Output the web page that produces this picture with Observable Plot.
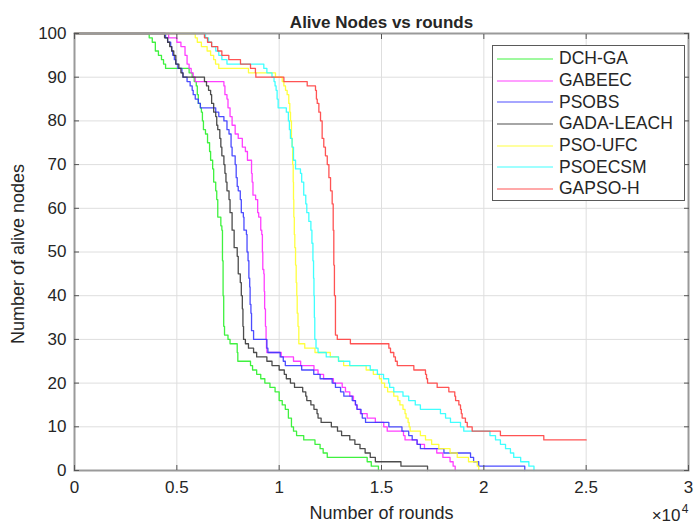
<!DOCTYPE html>
<html>
<head>
<meta charset="utf-8">
<script src="https://cdn.jsdelivr.net/npm/d3@7"></script>
<script src="https://cdn.jsdelivr.net/npm/@observablehq/plot@0.6"></script>
<style>
  body { margin: 0; background: #fff; }
  #wrap { position: relative; width: 696px; height: 527px; font-family: "Liberation Sans", Arial, sans-serif; }
  #legend { position: absolute; left: 492px; top: 45px; width: 193px; height: 156px; box-sizing: border-box;
            border: 1px solid #5a5a5a; background: #fff; padding-top: 2px; }
  .row { height: 21.7px; display: flex; align-items: center; font-size: 17.5px; color: #262626; }
  .row svg { margin-left: 4px; margin-right: 6px; }
</style>
</head>
<body>
<div id="wrap"><div id="legend"></div></div>
<script>
// Alive nodes remaining after each round, as [round, alive] step points
const dchGA = [[0,100],[3650,99],[3800,98],[3950,96],[4100,95],[4250,94],[4350,93],[4450,92],[5600,91],[5750,90],[5850,89],[5950,88],[6000,86],[6050,84],[6150,83],[6200,82],[6250,80],[6300,78],[6400,77],[6500,75],[6600,73],[6650,71],[6750,69],[6800,66],[6900,64],[6950,62],[7000,58],[7150,56],[7200,55],[7230,48],[7260,40],[7290,33],[7330,31],[7500,30],[7600,29],[7950,27],[7980,25],[8600,24],[8700,23],[8900,22],[9100,21],[9300,20],[9550,19],[9800,18],[10000,16],[10150,15],[10300,14],[10450,12],[10600,10],[10700,9],[10850,8],[11200,7],[11750,6],[12000,5],[12150,4],[12350,3],[14300,2],[14500,1],[14850,0]];
const gabeec = [[0,100],[4600,99],[5000,98],[5200,97],[5400,95],[5500,93],[5600,92],[5700,91],[5800,90],[5900,89],[7300,88],[7350,86],[7450,85],[7500,83],[7600,81],[7700,79],[7850,77],[8000,76],[8200,74],[8350,73],[8450,71],[8650,68],[8680,66],[8720,63],[8850,62],[8950,59],[9000,58],[9100,55],[9150,54],[9180,50],[9200,46],[9250,45],[9270,41],[9290,37],[9330,33],[9360,30],[9380,28],[9400,27],[10100,26],[10700,25],[11050,24],[11700,23],[11900,22],[12170,21],[12650,20],[13080,19],[13240,18],[13450,17],[13630,16],[13720,15],[13810,14],[13970,13],[14300,12],[14700,11],[15110,10],[15280,9],[16075,8],[16150,7],[16740,6],[17100,5],[17700,4],[18000,3],[18350,2],[18500,1],[18600,0]];
const psobs = [[0,100],[4450,99],[4550,98],[4700,97],[4750,96],[4800,95],[4880,94],[4950,93],[5050,92],[5250,91],[5300,90],[5500,89],[5650,88],[5750,87],[5800,86],[5900,85],[6050,84],[6150,83],[6900,82],[7050,81],[7300,80],[7450,78],[7550,77],[7650,74],[7700,72],[7850,70],[7900,67],[7950,65],[8000,64],[8100,62],[8150,59],[8250,58],[8280,55],[8400,54],[8430,50],[8480,48],[8520,44],[8560,42],[8580,38],[8620,36],[8650,32],[8750,30],[9400,28],[9450,27],[10050,26],[10200,25],[10300,24],[11100,23],[11690,22],[12000,21],[12590,20],[12750,19],[13000,18],[13160,17],[13570,16],[13730,15],[13800,14],[14000,13],[14060,12],[14220,11],[15360,10],[16000,9],[16330,8],[16500,7],[16740,6],[16900,5],[18050,4],[19350,3],[19500,2],[19750,1],[22000,0]];
const gadaLeach = [[0,100],[4400,99],[4550,98],[4650,97],[4750,96],[4850,95],[4950,93],[5100,92],[5200,91],[5300,90],[6350,89],[6450,88],[6550,87],[6650,86],[6700,84],[6800,82],[6900,81],[6950,79],[7000,78],[7100,76],[7150,74],[7200,72],[7300,70],[7350,68],[7400,66],[7450,64],[7550,62],[7600,59],[7700,55],[7800,51],[7950,49],[8000,45],[8100,43],[8150,40],[8200,37],[8230,33],[8260,30],[8350,29],[8500,28],[8750,27],[8900,26],[9400,25],[9650,24],[10000,23],[10250,22],[10350,21],[10550,20],[10750,19],[11150,18],[11300,17],[11350,16],[11550,15],[11700,14],[11850,13],[11900,12],[12050,11],[12550,10],[12850,9],[13050,8],[13450,7],[13700,6],[13950,5],[14200,4],[14450,3],[14700,2],[15950,1],[17250,0]];
const psoUfc = [[0,100],[5900,99],[6000,98],[6200,97],[6480,96],[6650,95],[6800,94],[6890,93],[7050,92],[8500,91],[9820,90],[10150,89],[10230,88],[10310,87],[10390,86],[10470,84],[10520,82],[10554,80],[10600,76],[10637,74],[10660,70],[10686,66],[10700,62],[10715,58],[10740,54],[10764,51],[10800,47],[10832,43],[10860,40],[10881,36],[10920,33],[10960,29],[11250,28],[11750,27],[12500,26],[12900,25],[13150,24],[14250,23],[14600,22],[14900,21],[15000,20],[15150,19],[15300,18],[15600,17],[15800,16],[15900,15],[16050,14],[16150,13],[16200,12],[16300,11],[16350,10],[16400,9],[16900,8],[17150,7],[17450,6],[17800,5],[18350,4],[18700,3],[19250,2],[19680,1],[19750,0]];
const psoecsm = [[0,100],[6400,99],[6550,98],[6700,97],[6900,96],[7050,95],[7200,94],[7450,93],[9250,92],[9400,91],[9650,90],[9750,89],[9800,88],[9850,87],[9900,85],[9950,83],[10350,82],[10450,80],[10500,78],[10550,76],[10630,74],[10700,71],[10800,69],[11040,68],[11100,66],[11200,63],[11300,61],[11350,59],[11450,57],[11550,55],[11600,52],[11650,48],[11680,44],[11700,40],[11720,35],[11740,30],[11800,28],[11900,27],[12300,26],[12900,25],[13450,24],[14450,23],[14800,22],[15100,21],[15350,20],[15400,19],[15600,18],[16050,17],[16330,16],[16650,15],[16900,14],[17880,13],[18130,12],[18370,11],[18860,10],[19020,9],[20300,8],[20570,7],[20810,6],[21060,5],[21300,4],[21460,3],[21800,2],[22200,1],[22450,0]];
const gapsoH = [[0,100],[6350,99],[6500,98],[6700,97],[7000,96],[7200,95],[7540,94],[8110,93],[8600,92],[8840,91],[8860,90],[10230,89],[11370,88],[11775,87],[11820,85],[11860,84],[11940,82],[12020,80],[12100,76],[12180,74],[12260,72],[12350,70],[12430,67],[12510,64],[12590,61],[12640,55],[12670,47],[12700,40],[12750,31],[12840,30],[13480,29],[15360,28],[15440,27],[15600,26],[15680,25],[15770,24],[16580,23],[17150,22],[17200,21],[17250,20],[17720,19],[18290,18],[18580,17],[18620,16],[18780,15],[18860,14],[18900,13],[18940,12],[19100,11],[19190,10],[19430,9],[20810,8],[22930,7],[25000,7]];

const seriesNames = ["DCH-GA", "GABEEC", "PSOBS", "GADA-LEACH", "PSO-UFC", "PSOECSM", "GAPSO-H"];
const seriesData = [dchGA, gabeec, psobs, gadaLeach, psoUfc, psoecsm, gapsoH];
const seriesColors = ["#2af02a", "#ff2aff", "#3838ff", "#383838", "#ffff2a", "#2affff", "#ff4040"];

const xTicks = [0, 5000, 10000, 15000, 20000, 25000, 30000];
const yTicks = [0, 10, 20, 30, 40, 50, 60, 70, 80, 90, 100];

const rows = seriesData.flatMap((pts, i) => pts.map(([round, alive]) => ({series: seriesNames[i], round, alive})));

const lines = seriesNames.map((name, i) =>
  Plot.line(rows.filter(d => d.series === name), {
    x: "round", y: "alive", curve: "step-after",
    stroke: seriesColors[i], strokeWidth: 1.3, strokeOpacity: 0.9
  })
);

const chart = Plot.plot({
  width: 696,
  height: 527,
  marginLeft: 74,
  marginRight: 8,
  marginTop: 33,
  marginBottom: 57,
  style: {fontFamily: "'Liberation Sans', Arial, sans-serif", fontSize: "17px", color: "#262626", background: "#fff"},
  x: {domain: [0, 30000]},
  y: {domain: [0, 100]},
  marks: [
    Plot.gridX(xTicks, {stroke: "#dedede", strokeOpacity: 1}),
    Plot.gridY(yTicks, {stroke: "#dedede", strokeOpacity: 1}),
    ...lines,
    Plot.frame({stroke: "#9a9a9a", strokeWidth: 2}),
    // inward tick marks on all four sides
    Plot.axisX(xTicks, {anchor: "bottom", tickSize: 5, dy: -5, tickFormat: () => "", label: null, stroke: "#555"}),
    Plot.axisX(xTicks, {anchor: "top", tickSize: 5, dy: 5, tickFormat: () => "", label: null, stroke: "#555"}),
    Plot.axisY(yTicks, {anchor: "left", tickSize: 5, dx: 5, tickFormat: () => "", label: null, stroke: "#555"}),
    Plot.axisY(yTicks, {anchor: "right", tickSize: 5, dx: -5, tickFormat: () => "", label: null, stroke: "#555"}),
    // tick labels
    Plot.axisX(xTicks, {anchor: "bottom", tickSize: 0, tickPadding: 10, tickFormat: d => String(d / 10000), label: null, fontSize: 17}),
    Plot.axisY(yTicks, {anchor: "left", tickSize: 0, tickPadding: 8, label: null, fontSize: 17}),
    // titles
    Plot.text(["Alive Nodes vs rounds"], {frameAnchor: "top", dy: -18, fontWeight: "bold", fontSize: 17}),
    Plot.text(["Number of rounds"], {frameAnchor: "bottom", dy: 48, fontSize: 18}),
    Plot.text(["Number of alive nodes"], {frameAnchor: "left", textAnchor: "middle", dx: -56, dy: 2, rotate: -90, fontSize: 18}),
    Plot.text(["×10"], {frameAnchor: "bottom-right", textAnchor: "end", dx: -8, dy: 50, fontSize: 17}),
    Plot.text(["4"], {frameAnchor: "bottom-right", textAnchor: "end", dx: 0, dy: 42, fontSize: 12})
  ]
});

const wrap = document.getElementById("wrap");
wrap.insertBefore(chart, wrap.firstChild);

// legend box in the upper right of the axes
const legend = d3.select("#legend");
seriesNames.forEach((name, i) => {
  const row = legend.append("div").attr("class", "row");
  const sw = row.append("svg").attr("width", 56).attr("height", 6);
  sw.append("line").attr("x1", 0).attr("x2", 56).attr("y1", 3).attr("y2", 3)
    .attr("stroke", seriesColors[i]).attr("stroke-width", 1.4).attr("stroke-opacity", 0.6);
  row.append("span").text(name);
});
</script>
</body>
</html>
